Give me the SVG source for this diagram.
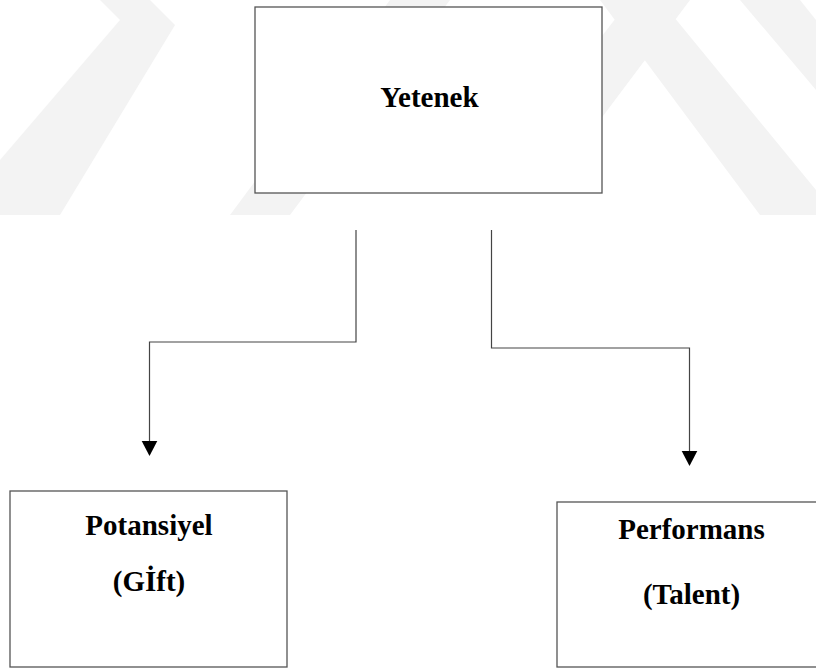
<svg xmlns="http://www.w3.org/2000/svg" width="816" height="669" viewBox="0 0 816 669">
<defs>
<style>
.bg{fill:#ffffff}
.wm{fill:#f3f3f3}
.box{fill:#ffffff;stroke:#555555;stroke-width:1.3}
.lbl{font-family:"Liberation Serif","Times New Roman",serif;font-weight:bold;font-size:29px;fill:#000000;text-anchor:middle}
.conn{fill:none;stroke:#444444;stroke-width:1.2}
</style>
<marker id="arr" viewBox="0 0 16 16" refX="8" refY="16" markerWidth="16" markerHeight="16" markerUnits="userSpaceOnUse" orient="auto-start-reverse">
<path d="M0,0 L16,0 L8,16 Z" fill="#000000" transform="rotate(-90 8 8)"/>
</marker>
</defs>
<rect class="bg" x="0" y="0" width="816" height="669"/>
<g id="watermark">
<polygon class="wm" points="0,160 120,20 100,0 150,0 175,25 60,215 0,215"/>
<polygon class="wm" points="230,215 390,0 450,0 290,215"/>
<polygon class="wm" points="560,90 630,0 690,0 600,120"/>
<polygon class="wm" points="600,0 660,0 816,190 816,215 760,215"/>
<polygon class="wm" points="740,0 800,0 816,20 816,90"/>
</g>
<g id="connectors">
<polyline class="conn" points="356,230 356,342 149.5,342 149.5,441"/>
<polygon points="141.7,441 157.3,441 149.5,456" fill="#000000"/>
<polyline class="conn" points="491.5,230 491.5,348 689.5,348 689.5,451"/>
<polygon points="681.7,451 697.3,451 689.5,466" fill="#000000"/>
</g>
<g id="node-yetenek">
<rect class="box" x="255" y="7" width="347" height="186"/>
<text class="lbl" x="429.5" y="107">Yetenek</text>
</g>
<g id="node-potansiyel">
<rect class="box" x="10" y="491" width="277" height="176"/>
<text class="lbl" x="149" y="535">Potansiyel</text>
<text class="lbl" x="149" y="591">(Gİft)</text>
</g>
<g id="node-performans">
<rect class="box" x="557" y="502" width="270" height="165"/>
<text class="lbl" x="691.5" y="539">Performans</text>
<text class="lbl" x="691.5" y="604">(Talent)</text>
</g>
</svg>
